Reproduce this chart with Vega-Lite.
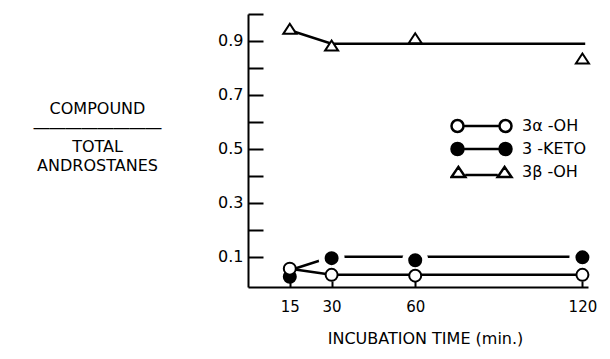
{
  "$schema": "https://vega.github.io/schema/vega-lite/v6.json",
  "width": 340,
  "height": 273,
  "autosize": {"type": "none"},
  "padding": {"left": 248, "top": 14, "right": 22, "bottom": 72},
  "background": "white",
  "config": {
    "view": {"stroke": null},
    "font": "DejaVu Sans",
    "axis": {
      "domainColor": "black", "domainWidth": 2, "tickColor": "black", "tickWidth": 2,
      "grid": false, "labelColor": "black", "titleColor": "black",
      "labelFont": "DejaVu Sans", "titleFont": "DejaVu Sans", "titleFontWeight": "normal"
    },
    "legend": {
      "title": null, "orient": "none", "padding": 0, "symbolSize": 3600,
      "symbolOffset": 0, "labelOffset": 9, "symbolStrokeWidth": 2.5,
      "labelFont": "DejaVu Sans", "labelFontSize": 16, "labelColor": "black",
      "clipHeight": 20, "rowPadding": 3
    }
  },
  "datasets": {
    "pts": [
      {"series": "3 -KETO", "time": 15, "frac": 0.026},
      {"series": "3 -KETO", "time": 30, "frac": 0.095},
      {"series": "3 -KETO", "time": 60, "frac": 0.087},
      {"series": "3 -KETO", "time": 120, "frac": 0.098},
      {"series": "3α -OH", "time": 15, "frac": 0.056},
      {"series": "3α -OH", "time": 30, "frac": 0.033},
      {"series": "3α -OH", "time": 60, "frac": 0.03},
      {"series": "3α -OH", "time": 120, "frac": 0.033},
      {"series": "3β -OH", "time": 15, "frac": 0.945},
      {"series": "3β -OH", "time": 30, "frac": 0.883},
      {"series": "3β -OH", "time": 60, "frac": 0.91},
      {"series": "3β -OH", "time": 120, "frac": 0.835}
    ],
    "fits": [
      {"series": "3α -OH", "time": 15, "frac": 0.056},
      {"series": "3α -OH", "time": 30, "frac": 0.033},
      {"series": "3α -OH", "time": 120, "frac": 0.033},
      {"series": "3 -KETO", "time": 15, "frac": 0.05},
      {"series": "3 -KETO", "time": 30, "frac": 0.1},
      {"series": "3 -KETO", "time": 120, "frac": 0.1},
      {"series": "3β -OH", "time": 15, "frac": 0.94},
      {"series": "3β -OH", "time": 30, "frac": 0.89},
      {"series": "3β -OH", "time": 121, "frac": 0.89}
    ]
  },
  "encoding": {
    "x": {
      "field": "time", "type": "quantitative",
      "scale": {"domain": [0, 122], "nice": false, "zero": false},
      "axis": {
        "values": [15, 30, 60, 120], "tickSize": -6, "labelPadding": 18,
        "labelFontSize": 15, "title": "INCUBATION TIME (min.)", "titleFontSize": 16,
        "titleX": 177, "titleY": 51, "titleAlign": "center", "titleBaseline": "middle",
        "titleAnchor": null
      }
    },
    "y": {
      "field": "frac", "type": "quantitative",
      "scale": {"domain": [-0.012, 1.0], "nice": false, "zero": false},
      "axis": {
        "values": [0.1, 0.2, 0.3, 0.4, 0.5, 0.6, 0.7, 0.8, 0.9, 1.0],
        "format": ".1f",
        "labelExpr": "indexof(['0.1','0.3','0.5','0.7','0.9'], datum.label) >= 0 ? datum.label : ''",
        "tickSize": -15, "labelPadding": 20, "labelFontSize": 16,
        "title": ["COMPOUND", "――――――――", "TOTAL", "ANDROSTANES"],
        "titleAngle": 0, "titleFontSize": 16, "titleLineHeight": 19,
        "titleX": -151, "titleY": 94, "titleAlign": "center", "titleBaseline": "middle",
        "titleAnchor": null
      }
    }
  },
  "layer": [
    {
      "data": {"name": "fits"},
      "mark": {"type": "line", "stroke": "black", "strokeWidth": 2.5},
      "encoding": {"detail": {"field": "series"}}
    },
    {
      "data": {"name": "pts"},
      "transform": [{"filter": "datum.series == '3 -KETO' && datum.time > 15"}],
      "mark": {"type": "point", "shape": "circle", "filled": true, "fill": "white", "strokeWidth": 0, "size": 676, "opacity": 1}
    },
    {
      "data": {"name": "pts"},
      "transform": [{"filter": "datum.series != '3β -OH'"}],
      "mark": {"type": "point", "shape": "M0.8,0A0.8,0.8,0,1,1,-0.8,0A0.8,0.8,0,1,1,0.8,0Z", "filled": true, "stroke": "black", "strokeWidth": 2, "size": 225, "opacity": 1},
      "encoding": {
        "fill": {
          "field": "series", "type": "nominal",
          "scale": {"domain": ["3α -OH", "3 -KETO"], "range": ["white", "black"]},
          "legend": {
            "legendX": 202, "legendY": 102,
            "symbolType": "M-0.6,0A0.2,0.2,0,1,1,-1,0A0.2,0.2,0,1,1,-0.6,0ZM-0.6,0L0.6,0M1,0A0.2,0.2,0,1,1,0.6,0A0.2,0.2,0,1,1,1,0Z",
            "symbolStrokeColor": "black"
          }
        }
      }
    },
    {
      "data": {"name": "pts"},
      "transform": [{"filter": "datum.series == '3β -OH'"}],
      "mark": {"type": "point", "shape": "M0,-0.67L-0.87,0.67L0.87,0.67Z", "filled": true, "fill": "white", "strokeWidth": 2, "size": 225, "opacity": 1},
      "encoding": {
        "stroke": {
          "field": "series", "type": "nominal",
          "scale": {"domain": ["3β -OH"], "range": ["black"]},
          "legend": {
            "legendX": 202, "legendY": 148,
            "symbolType": "M-0.77,-0.17L-1,0.17L-0.54,0.17ZM-0.54,0.1L0.54,0.1M0.77,-0.17L0.54,0.17L1,0.17Z",
            "symbolFillColor": "white"
          }
        }
      }
    }
  ]
}
